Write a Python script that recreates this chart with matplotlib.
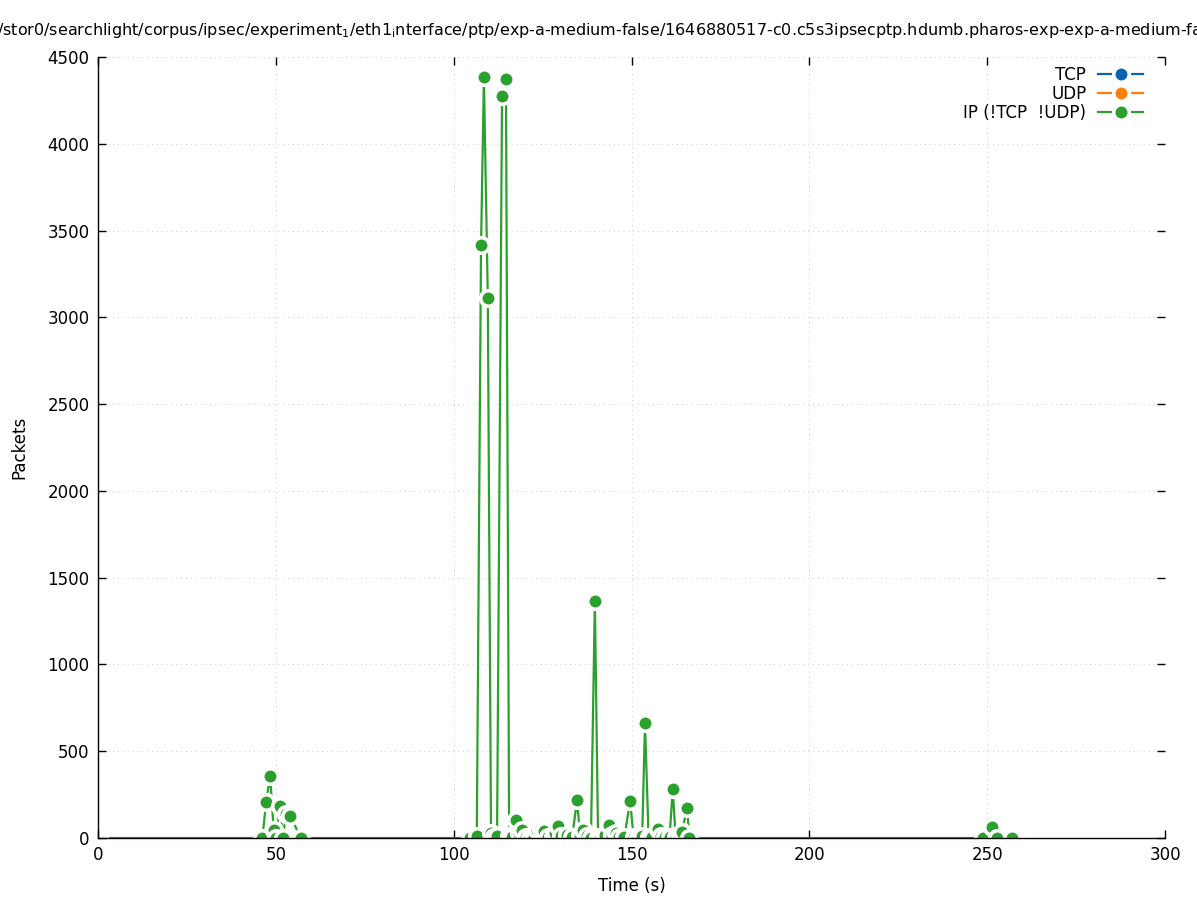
import matplotlib
matplotlib.use("Agg")
import matplotlib.pyplot as plt
import numpy as np

# ---- data ----
ip_time = [3.4, 12.4, 22.5, 33.4, 40.8, 43.6,
           46.2, 47.3, 48.4, 49.4, 50.0, 51.2, 52.0, 52.8, 54.1, 57.0,
           63.3, 73.0, 83.5, 93.3, 99.5, 102.6, 104.5,
           106.5, 107.7, 108.5, 109.6, 110.5, 111.3, 112.2, 113.6, 114.7, 115.6,
           116.4, 117.5, 118.3, 119.2, 120.3, 121.4, 122.6, 123.5, 124.6, 125.5,
           126.5, 127.8, 128.6, 129.3, 130.3, 131.8, 133.3, 134.7, 135.5, 136.4,
           137.5, 138.6, 139.7, 140.6, 141.5, 142.6, 143.6, 144.6, 145.7, 146.5,
           148.0, 149.6, 150.6, 151.8, 153.0, 153.8, 154.8, 155.9, 157.4, 158.4,
           159.5, 160.7, 161.6, 162.4, 163.5, 164.2, 165.6, 166.3,
           172.9, 183.5, 192.6, 203.0, 213.5, 223.2, 233.0, 244.3,
           248.8, 251.3, 252.7, 256.9]
ip_pkts = [0, 0, 0, 0, 0, 0,
           0, 210, 357, 46, 0, 184, 0, 140, 127, 0,
           0, 0, 0, 0, 0, 0, 0,
           10, 3416, 4383, 3110, 30, 5, 10, 4274, 4372, 10,
           5, 105, 30, 45, 5, 0, 3, 45, 50, 40,
           5, 3, 30, 70, 10, 20, 5, 218, 20, 45,
           10, 0, 1365, 5, 5, 20, 75, 20, 30, 5,
           5, 213, 5, 0, 10, 662, 5, 5, 50, 10,
           5, 5, 282, 5, 10, 35, 173, 0,
           0, 0, 0, 0, 0, 0, 0, 0,
           0, 63, 0, 1]
tcp_time, tcp_pkts = [], []
udp_time, udp_pkts = [], []

series_labels = ["TCP", "UDP", "IP (!TCP  !UDP)"]
colors = ["#0b62b0", "#ff7f0e", "#2ca02c"]
x_ticks = [0, 50, 100, 150, 200, 250, 300]
y_ticks = [0, 500, 1000, 1500, 2000, 2500, 3000, 3500, 4000, 4500]

title = ("/stor0/searchlight/corpus/ipsec/experiment$_\\mathregular{1}$/eth1$_\\mathregular{i}$nterface/ptp/"
         "exp-a-medium-false/1646880517-c0.c5s3ipsecptp.hdumb.pharos-exp-exp-a-medium-fa")

plt.rcParams['font.family'] = ['DejaVu Sans']
plt.rcParams['font.size'] = 12

fig = plt.figure(figsize=(11.97, 9.0), dpi=100)
ax = fig.add_axes([98/1197, 1-838/900, (1165-98)/1197, (838-57)/900])

def mark_idx(v):
    idx = []
    for i in range(len(v)):
        lo, hi = max(0, i-1), min(len(v), i+2)
        if any(val > 0 for val in v[lo:hi]):
            idx.append(i)
    return idx

style = dict(linewidth=1.6, marker='o', markersize=11.2,
             markeredgecolor='white', markeredgewidth=2.6)

for t, v, lab, c in [(tcp_time, tcp_pkts, series_labels[0], colors[0]),
                     (udp_time, udp_pkts, series_labels[1], colors[1]),
                     (ip_time, ip_pkts, series_labels[2], colors[2])]:
    me = mark_idx(v) if len(v) else None
    ax.plot(t, v, color=c, markerfacecolor=c, label=lab, markevery=me, **style)

ax.set_xlim(0, 300)
ax.set_ylim(0, 4500)
ax.set_xticks(x_ticks)
ax.set_yticks(y_ticks)
ax.tick_params(direction='in', length=6, width=1, top=True, right=True,
               labelsize=12, pad=6)
for s in ['top', 'right']:
    ax.spines[s].set_visible(False)
for s in ['left', 'bottom']:
    ax.spines[s].set_linewidth(1.0)
ax.grid(True, linestyle=(0, (1, 4)), color='#cccccc', linewidth=0.7)
ax.set_axisbelow(True)

ax.set_xlabel("Time (s)", fontsize=12, labelpad=9)
ax.set_ylabel("Packets", fontsize=12, labelpad=14)

fig.text(-3/1197, 1-30/900, title, ha='left', va='center', fontsize=11.5)

leg = ax.legend(loc='upper right', frameon=False, markerfirst=False,
                handlelength=2.7, handletextpad=0.7, labelspacing=0.05,
                borderaxespad=0.15, fontsize=12, bbox_to_anchor=(0.988, 1.0))

fig.savefig("out.png", dpi=100)
